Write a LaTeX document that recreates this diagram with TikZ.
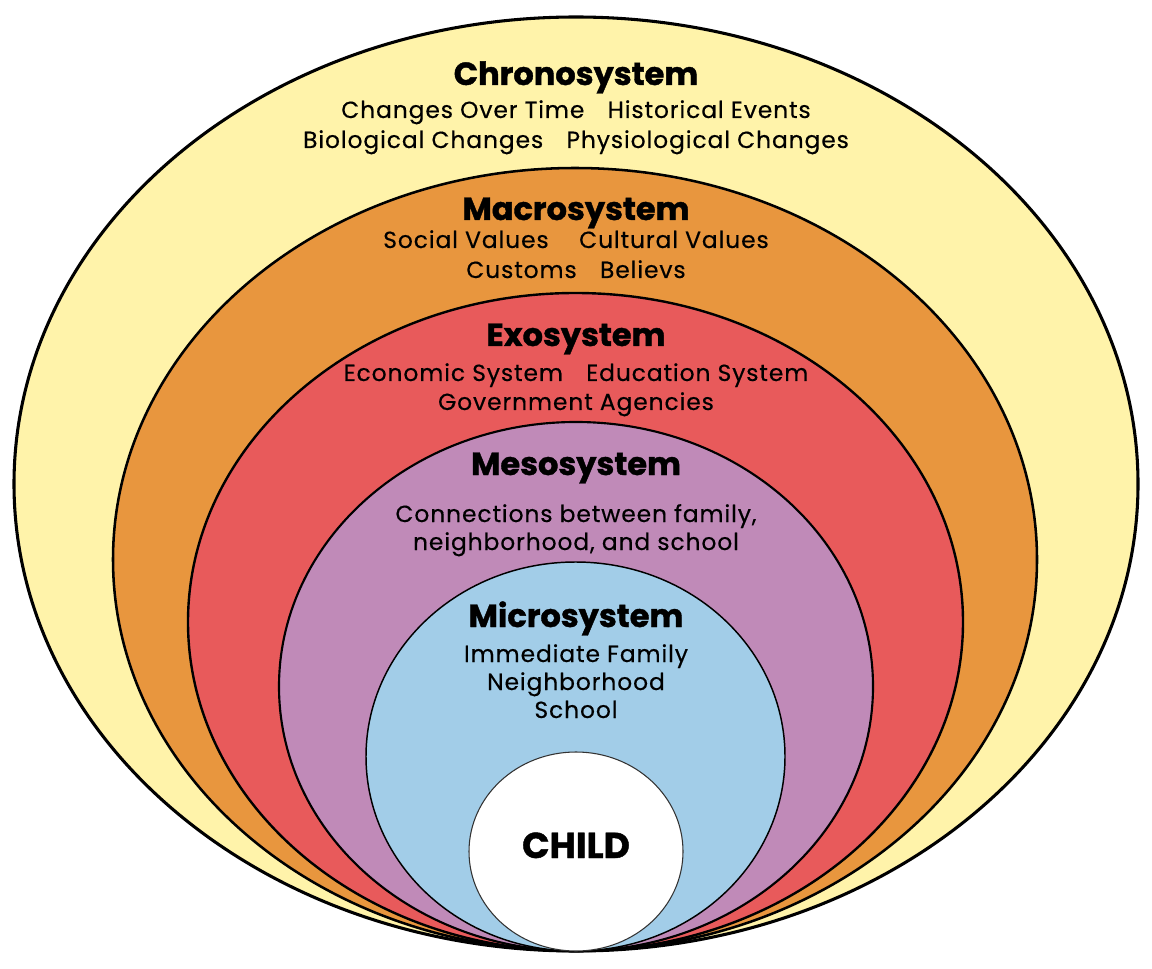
\documentclass[tikz,border=0pt]{standalone}
\usepackage{fontspec}
\setmainfont{Poppins}[BoldFeatures={FakeBold=1.2}]
\newfontfamily\bodyfont{Poppins}[LetterSpace=4, FakeBold=0.4]
\usepackage{xcolor}
\definecolor{chronofill}{RGB}{255,243,170}
\definecolor{macrofill}{RGB}{232,150,62}
\definecolor{exofill}{RGB}{232,90,91}
\definecolor{mesofill}{RGB}{192,138,184}
\definecolor{microfill}{RGB}{162,205,232}
\usetikzlibrary{positioning}
\tikzset{
  ring/.style={draw=black, line width=1.6pt},
  heading/.style={anchor=base, inner sep=0pt, font=\bfseries\fontsize{24}{28}\selectfont},
  body/.style={anchor=base, inner sep=0pt, font=\bodyfont\fontsize{17.5}{22}\selectfont}
}
\begin{document}
\begin{tikzpicture}[x=0.75pt,y=-0.75pt]
  % Frame
  \fill[white] (0,0) rectangle (1152,969);
  \useasboundingbox (0,0) rectangle (1152,969);
  % Nested systems
  \draw[ring, fill=chronofill, line width=2.3pt] (576,484) ellipse [x radius=562, y radius=467];
  \draw[ring, fill=macrofill, line width=1.9pt] (575,559.5) ellipse [x radius=462, y radius=391.5];
  \draw[ring, fill=exofill, line width=1.8pt] (575.5,622) ellipse [x radius=387.5, y radius=329];
  \draw[ring, fill=mesofill] (576,686.5) ellipse [x radius=297, y radius=264.5];
  \draw[ring, fill=microfill, line width=1.1pt] (575.5,756.5) ellipse [x radius=209.5, y radius=194.5];
  \draw[fill=white, draw=black!80, line width=0.8pt] (576,851.5) ellipse [x radius=107, y radius=99.5];
  % Chronosystem
  \node[heading] (chrono) at (576,85) {Chronosystem};
  \node[body] (chronoA) at (576,118) {Changes Over Time\quad Historical Events};
  \node[body] (chronoB) at (576,148) {Biological Changes\quad Physiological Changes};
  % Macrosystem
  \node[heading] (macro) at (576,220) {Macrosystem};
  \node[body] (macroA) at (576,248) {Social Values\quad\ Cultural Values};
  \node[body] (macroB) at (576,278) {Customs\quad Believs};
  % Exosystem
  \node[heading] (exo) at (576,346) {Exosystem};
  \node[body] (exoA) at (576,381) {Economic System\quad Education System};
  \node[body] (exoB) at (576,410) {Government Agencies};
  % Mesosystem
  \node[heading] (meso) at (576,475) {Mesosystem};
  \node[body] (mesoA) at (576,522) {Connections between family,};
  \node[body] (mesoB) at (576,550) {neighborhood, and school};
  % Microsystem
  \node[heading] (micro) at (576,627) {Microsystem};
  \node[body] (microA) at (576,662) {Immediate Family};
  \node[body] (microB) at (576,690) {Neighborhood};
  \node[body] (microC) at (576,718) {School};
  % Child
  \node[heading, font=\bfseries\fontsize{27}{30}\selectfont] (child) at (576,858) {CHILD};
\end{tikzpicture}
\end{document}
